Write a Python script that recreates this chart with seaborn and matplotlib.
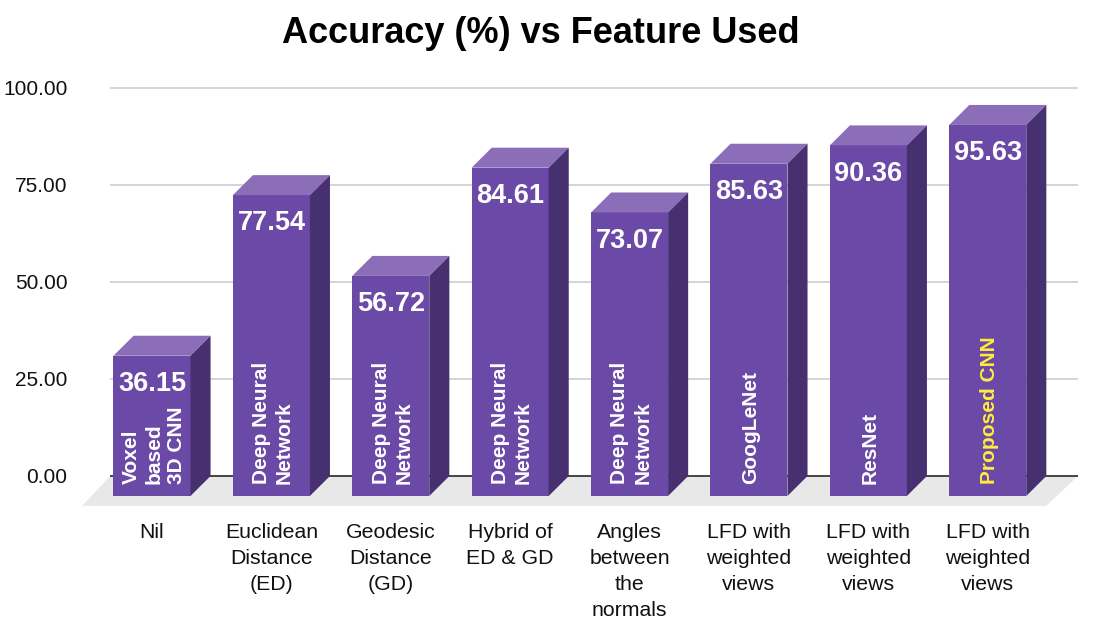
import matplotlib
matplotlib.use("Agg")
import matplotlib.pyplot as plt
import seaborn as sns
import pandas as pd
from matplotlib.patches import Polygon

# Data ---------------------------------------------------------------------------------
features = [
    "Nil",
    "Euclidean\nDistance\n(ED)",
    "Geodesic\nDistance\n(GD)",
    "Hybrid of\nED & GD",
    "Angles\nbetween\nthe\nnormals",
    "LFD with\nweighted\nviews",
    "LFD with\nweighted\nviews",
    "LFD with\nweighted\nviews",
]
models = [
    "Voxel\nbased\n3D CNN",
    "Deep Neural\nNetwork",
    "Deep Neural\nNetwork",
    "Deep Neural\nNetwork",
    "Deep Neural\nNetwork",
    "GoogLeNet",
    "ResNet",
    "Proposed CNN",
]
accuracy = [36.15, 77.54, 56.72, 84.61, 73.07, 85.63, 90.36, 95.63]
yticks = [0, 25, 50, 75, 100]

df = pd.DataFrame({"slot": [str(i) for i in range(len(accuracy))], "accuracy": accuracy})

# Style --------------------------------------------------------------------------------
sns.set_theme(style="white")
plt.rcParams["font.family"] = ["Liberation Sans", "DejaVu Sans"]

FRONT = "#6a49a7"
TOP = "#8b6db8"
SIDE = "#46306f"
DX, DY = 0.168, 5.15  # depth of the 3D effect (category units, data units)

fig = plt.figure(figsize=(11.03, 6.24), dpi=100)
# axes placed in pixel terms: left 80, right 1100, top 80, bottom 508
ax = fig.add_axes([80 / 1103, (624 - 508) / 624, 1020 / 1103, 428 / 624])

sns.barplot(data=df, x="slot", y="accuracy", color=FRONT, saturation=1,
            width=0.645, edgecolor="none", ax=ax, zorder=3)

ax.set_xlim(-0.603, 7.94)
ax.set_ylim(-8.25, 102.06)

# Floor and gridlines
floor = Polygon([(-0.586, -7.7), (-0.35, 0), (7.755, 0), (7.49, -7.7)],
                closed=True, facecolor="#e8e8e8", edgecolor="none", zorder=0)
ax.add_patch(floor)
for t in yticks:
    ax.hlines(t, -0.35, 7.755, color="#c9c9c9" if t else "#444444",
              lw=1.1 if t else 1.4, zorder=1)

# 3D faces, labels
for i, p in enumerate(ax.patches[:len(accuracy)]):
    v = accuracy[i]
    p.set_y(-DY)
    x0, x1 = p.get_x(), p.get_x() + p.get_width()
    top = Polygon([(x0, v - DY), (x1, v - DY), (x1 + DX, v), (x0 + DX, v)],
                  closed=True, facecolor=TOP, edgecolor="none", zorder=3)
    side = Polygon([(x1, -DY), (x1, v - DY), (x1 + DX, v), (x1 + DX, 0)],
                   closed=True, facecolor=SIDE, edgecolor="none", zorder=3)
    ax.add_patch(top)
    ax.add_patch(side)
    cx = (x0 + x1) / 2
    ax.text(cx, v - DY - 7.3, f"{v:.2f}", ha="center", va="center",
            color="white", fontsize=19.5, fontweight="bold", zorder=4)
    ax.text(cx + 0.015, -DY + 3.1, models[i], rotation=90, ha="center", va="bottom",
            multialignment="left", linespacing=1.25,
            color="#ffec3d" if i == len(accuracy) - 1 else "white",
            fontsize=15, fontweight="bold", zorder=4)

# Axes and text
ax.set_yticks(yticks)
ax.set_yticklabels([f"{t:.2f}" for t in yticks], fontsize=15, color="#111111")
ax.set_xticks(range(len(features)))
ax.set_xticklabels(features, fontsize=15.3, color="#111111", linespacing=1.45)
ax.tick_params(axis="y", length=0, pad=9)
ax.tick_params(axis="x", length=0, pad=11)
ax.set_xlabel("")
ax.set_ylabel("")
sns.despine(ax=ax, left=True, bottom=True)

fig.text(0.49, 0.947, "Accuracy (%) vs Feature Used", ha="center", va="center",
         fontsize=26, fontweight="bold", color="black")

fig.savefig("out.png", dpi=100)
